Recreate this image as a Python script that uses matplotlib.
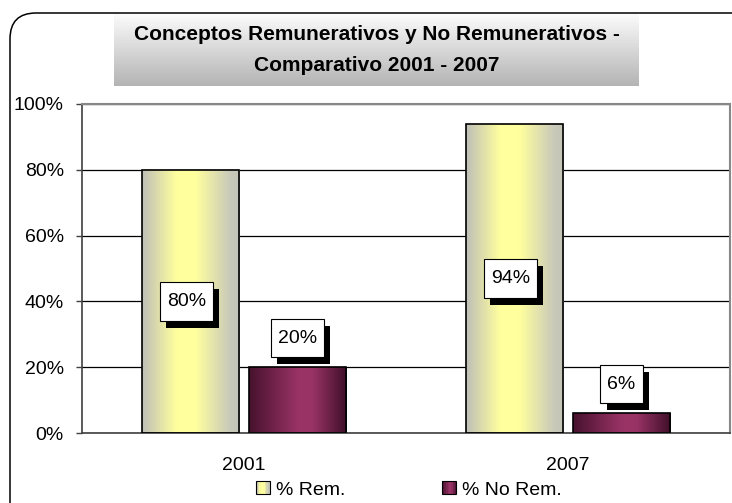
import matplotlib
matplotlib.use("Agg")
import matplotlib.pyplot as plt
import matplotlib.patheffects as pe
from matplotlib.colors import LinearSegmentedColormap
from matplotlib.patches import Rectangle, FancyBboxPatch
from matplotlib.path import Path
from matplotlib.legend_handler import HandlerBase
from matplotlib.transforms import IdentityTransform
import numpy as np

plt.rcParams['font.family'] = ['Liberation Sans', 'DejaVu Sans']

# datos
years = ['2001', '2007']
rem = [80, 94]
no_rem = [20, 6]
series_names = ['% Rem.', '% No Rem.']
title_lines = 'Conceptos Remunerativos y No Remunerativos -\nComparativo 2001 - 2007'

# degradados horizontales de las barras
rem_cmap = LinearSegmentedColormap.from_list('rem', [
    (0.0, (0.75, 0.75, 0.72)), (0.35, (1.0, 1.0, 0.62)),
    (0.55, (1.0, 1.0, 0.62)), (0.9, (0.79, 0.79, 0.73)), (1.0, (0.77, 0.77, 0.72))])
norem_cmap = LinearSegmentedColormap.from_list('norem', [
    (0.0, (0.28, 0.07, 0.18)), (0.5, (0.60, 0.20, 0.40)),
    (0.65, (0.60, 0.20, 0.40)), (1.0, (0.25, 0.06, 0.16))])

W, H = 732, 503
fig = plt.figure(figsize=(W / 100, H / 100), dpi=100)

# marco redondeado exterior (en pixeles)
frame = FancyBboxPatch((10, -40), 780, 530, boxstyle='round,pad=0,rounding_size=26',
                       transform=IdentityTransform(), facecolor='none',
                       edgecolor='black', linewidth=1.1, zorder=-1)
fig.patches.append(frame)

# caja del titulo con degradado vertical
tax = fig.add_axes([114 / W, (H - 86) / H, (639 - 114) / W, 72 / H])
grad = np.linspace(0, 1, 100).reshape(-1, 1)
tax.imshow(grad, aspect='auto', extent=(0, 1, 0, 1),
           cmap=LinearSegmentedColormap.from_list('t', ['#fcfcfc', '#b4b4b4']))
tax.set_axis_off()
tax.text(0.5, 0.5, title_lines, ha='center', va='center', fontsize=15,
         fontweight='bold', linespacing=1.75, transform=tax.transAxes)

ax = fig.add_axes([82 / W, (H - 433) / H, (730 - 82) / W, (433 - 104) / H])
ax.patch.set_alpha(0)
x = np.arange(len(years))
width = 0.3
off = 0.165


def gradient_bars(bars, cmap):
    img = np.linspace(0, 1, 200).reshape(1, -1)
    for b in bars:
        b.set_facecolor('none')
        im = ax.imshow(img, cmap=cmap, aspect='auto', zorder=2,
                       extent=(b.get_x(), b.get_x() + b.get_width(), 0, b.get_height()))
        im.set_clip_path(b)


bars1 = ax.bar(x - off, rem, width, edgecolor='black', linewidth=1.2, zorder=3)
bars2 = ax.bar(x + off, no_rem, width, edgecolor='black', linewidth=1.2, zorder=3)
gradient_bars(bars1, rem_cmap)
gradient_bars(bars2, norem_cmap)

ax.set_xlim(-0.5, len(years) - 0.5)
ax.set_ylim(0, 100)
ax.set_yticks(np.arange(0, 101, 20))
ax.set_yticklabels([f'{v}%' for v in range(0, 101, 20)])
ax.set_xticks(x)
ax.set_xticklabels(years)
ax.tick_params(axis='y', direction='out', length=4, width=1, color='#404040',
               labelsize=14, pad=9)
ax.tick_params(axis='x', length=0, labelsize=14, pad=17)
ax.yaxis.grid(True, color='black', linewidth=0.9, zorder=1)
ax.set_axisbelow(True)
for s in ['top', 'right']:
    ax.spines[s].set_color('#888888')
    ax.spines[s].set_linewidth(1.5)
ax.spines['left'].set_color('#404040')
ax.spines['bottom'].set_color('#404040')
ax.spines['left'].set_linewidth(1.2)
ax.spines['bottom'].set_linewidth(1.2)

shadow = [pe.withSimplePatchShadow(offset=(4.5, -5), shadow_rgbFace='black', alpha=1.0)]


def label_box(x0, y0, width, height, mutation_size):
    # caja rectangular con mas margen vertical que horizontal
    px, py = 0.36 * mutation_size, 0.55 * mutation_size
    x0, y0 = x0 - px, y0 - py
    x1, y1 = x0 + width + 2 * px, y0 + height + 2 * py
    return Path([(x0, y0), (x1, y0), (x1, y1), (x0, y1), (x0, y0)], closed=True)


def add_label(xpos, ypos, val, dx, dy):
    t = ax.annotate(f'{val}%', (xpos, ypos), xytext=(dx, dy), textcoords='offset points',
                    ha='center', va='center', fontsize=14, zorder=6,
                    bbox=dict(boxstyle=label_box, facecolor='white',
                              edgecolor='black', linewidth=0.8))
    t.get_bbox_patch().set_path_effects(shadow)


for xi, v in zip(x - off, rem):
    add_label(xi, v / 2, v, -3, 0)
for xi, v in zip(x + off, no_rem):
    add_label(xi, v, v, 0, 21)


class GradHandler(HandlerBase):
    def __init__(self, cmap):
        super().__init__()
        self.cmap = cmap

    def create_artists(self, legend, orig_handle, xdescent, ydescent, width, height,
                       fontsize, trans):
        arts = []
        n = 8
        for i in range(n):
            r = Rectangle((-xdescent + width * i / n, -ydescent), width / n, height,
                          facecolor=self.cmap((i + 0.5) / n), edgecolor='none',
                          transform=trans)
            arts.append(r)
        arts.append(Rectangle((-xdescent, -ydescent), width, height, facecolor='none',
                              edgecolor='black', linewidth=0.8, transform=trans))
        return arts


h1 = Rectangle((0, 0), 1, 1)
h2 = Rectangle((0, 0), 1, 1)
fig.legend([h1, h2], series_names, loc='center', bbox_to_anchor=(409 / W, 13 / H),
           ncol=2, frameon=False, fontsize=14, handlelength=0.72, handleheight=0.62,
           handletextpad=0.3, columnspacing=5, borderpad=0,
           handler_map={h1: GradHandler(rem_cmap), h2: GradHandler(norem_cmap)})

fig.savefig('out.png', dpi=100)
